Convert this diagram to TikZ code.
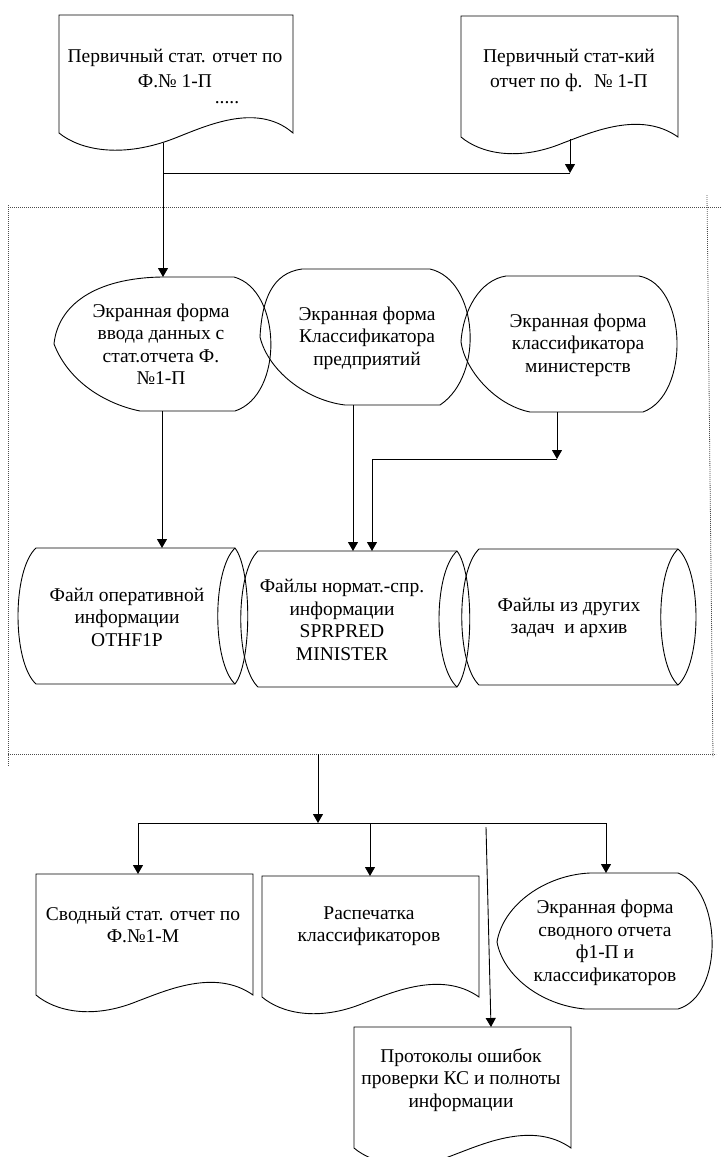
\documentclass[tikz,border=0pt]{standalone}
\usepackage{fontspec}
\setmainfont{Liberation Serif}
\usetikzlibrary{arrows.meta}

% document outline (width 217, straight sides 121) at local origin = top-left corner
\newcommand\docoutline{(0,121) -- (0,0) -- (217,0) -- (217,121)
  .. controls (179,94) and (129,117) .. (102,127)
  .. controls (56,146) and (19,137) .. (0,121) -- cycle}

\begin{document}
\begin{tikzpicture}[x=1pt,y=-1pt,
  outline/.style={draw=black,line width=0.9pt},
  conn/.style={draw=black,line width=0.9pt,-{Triangle[length=9pt,width=10pt]}},
  wire/.style={draw=black,line width=0.9pt},
  framestyle/.style={draw=black!70,line width=0.8pt,dash pattern=on 0.9pt off 1.1pt},
  lbl/.style={font=\fontsize{19.5}{22.5}\selectfont,align=center,inner sep=0pt},
  toplbl/.style={lbl,font=\fontsize{19.5}{25}\selectfont}]

\useasboundingbox (0,0) rectangle (721,1157);
\clip (0,0) rectangle (721,1157);

% ---- dotted processing frame ----
\draw[framestyle] (8,205) -- (8,766);
\draw[framestyle] (8,207) -- (721,207);
\draw[framestyle] (707,195) -- (713,757);
\draw[framestyle] (8,754) -- (716,754);

% ---- source documents ----
\draw[outline] (59,133) -- (59,15) -- (293,15) -- (293,133)
  .. controls (255,100) and (200,129) .. (170,140)
  .. controls (120,158) and (80,150) .. (59,133) -- cycle;
\node[toplbl] (docA) at (175,68) {Первичный стат. отчет по\\Ф.№ 1-П};
\node[lbl] (docAdots) at (227,103) {.....};

\draw[outline,shift={(461,16)}] \docoutline;
\node[toplbl] (docB) at (569,70) {Первичный стат-кий\\отчет по ф.~ № 1-П};

% ---- screen forms ----
\draw[outline] (162,277) -- (234,277)
  .. controls (282,290) and (284,395) .. (235,411) -- (140,411)
  .. controls (110,405) and (70,385) .. (54,344)
  .. controls (58,305) and (95,278) .. (162,277) -- cycle;
\node[lbl] (form1) at (161,344) {Экранная форма\\ввода данных с\\стат.отчета Ф.\\№1-П};

\draw[outline] (302,269) -- (430,269)
  .. controls (478,280) and (485,375) .. (440,405) -- (345,405)
  .. controls (305,400) and (268,370) .. (260,337)
  .. controls (262,300) and (272,273) .. (302,269) -- cycle;
\node[lbl] (form2) at (367,338) {Экранная форма\\Классификатора\\предприятий};

\draw[outline] (506,276) -- (639,276)
  .. controls (688,285) and (690,395) .. (643,412) -- (530,412)
  .. controls (495,405) and (465,370) .. (461,342)
  .. controls (463,310) and (480,280) .. (506,276) -- cycle;
\node[lbl] (form3) at (578,345) {Экранная форма\\классификатора\\министерств};

% ---- data files ----
\draw[outline] (36,548) -- (235,548)
  .. controls (252,570) and (252,662) .. (235,684) -- (36,684)
  .. controls (12,662) and (12,570) .. (36,548) -- cycle;
\draw[outline] (235,548) .. controls (212,570) and (212,662) .. (235,684);
\node[lbl] (file1) at (127,617) {Файл оперативной\\информации\\OTHF1P};

\draw[outline] (258,551) -- (457,551)
  .. controls (474,573) and (474,665) .. (457,687) -- (258,687)
  .. controls (235,665) and (235,573) .. (258,551) -- cycle;
\draw[outline] (457,551) .. controls (433,573) and (433,665) .. (457,687);
\node[lbl] (file2) at (342,620) {Файлы нормат.-спр.\\информации\\SPRPRED\\MINISTER};

\draw[outline] (479,549) -- (678,549)
  .. controls (702,571) and (702,663) .. (678,685) -- (479,685)
  .. controls (456,663) and (456,571) .. (479,549) -- cycle;
\draw[outline] (678,549) .. controls (655,571) and (655,663) .. (678,685);
\node[lbl] (file3) at (569,618) {Файлы из других\\задач~ и архив};

% ---- output documents ----
\draw[outline,shift={(36,874)}] \docoutline;
\node[lbl] (sum) at (143,925) {Сводный стат. отчет по\\Ф.№1-М};

\draw[outline,shift={(262,876)}] \docoutline;
\node[lbl] (print) at (369,926) {Распечатка\\классификаторов};

\draw[outline] (590,873) -- (678,873)
  .. controls (722,890) and (725,995) .. (678,1009) -- (585,1009)
  .. controls (540,1005) and (503,975) .. (497,942)
  .. controls (503,905) and (545,875) .. (590,873) -- cycle;
\node[lbl] (form4) at (605,943) {Экранная форма\\сводного отчета\\ф1-П и\\классификаторов};

\draw[outline,shift={(354,1027)}] \docoutline;
\node[lbl] (errlog) at (461,1080) {Протоколы ошибок\\проверки КС и полноты\\информации};

% ---- connection points ----
\coordinate (docA-out) at (163,143);
\coordinate (docB-out) at (570,139);
\coordinate (joinA) at (163,173);
\coordinate (joinB) at (570,173);
\coordinate (form1-in) at (163,277);
\coordinate (form1-out) at (162,411);
\coordinate (file1-in) at (162,548);
\coordinate (form2-out) at (353,405);
\coordinate (file2-in) at (353,551);
\coordinate (form3-out) at (557,412);
\coordinate (bendR) at (557,459);
\coordinate (bendL) at (372,459);
\coordinate (file2-in2) at (372,551);
\coordinate (frame-out) at (318,754);
\coordinate (busC) at (318,823);
\coordinate (busL) at (138,823);
\coordinate (busM) at (370,823);
\coordinate (busR) at (606,823);
\coordinate (sum-in) at (138,874);
\coordinate (print-in) at (370,876);
\coordinate (form4-in) at (606,873);
\coordinate (errtap) at (486,827);
\coordinate (errlog-in) at (491,1027);

% ---- connectors ----
\draw[conn] (docA-out) -- (form1-in);
\draw[wire] (joinA) -- (joinB);
\draw[conn] (docB-out) -- (joinB);
\draw[conn] (form1-out) -- (file1-in);
\draw[conn] (form2-out) -- (file2-in);
\draw[conn] (form3-out) -- (bendR);
\draw[conn] (bendR) -- (bendL) -- (file2-in2);
\draw[conn] (frame-out) -- (busC);
\draw[wire] (busL) -- (busR);
\draw[conn] (busL) -- (sum-in);
\draw[conn] (busM) -- (print-in);
\draw[conn] (busR) -- (form4-in);
\draw[conn] (errtap) -- (errlog-in);
\end{tikzpicture}
\end{document}
